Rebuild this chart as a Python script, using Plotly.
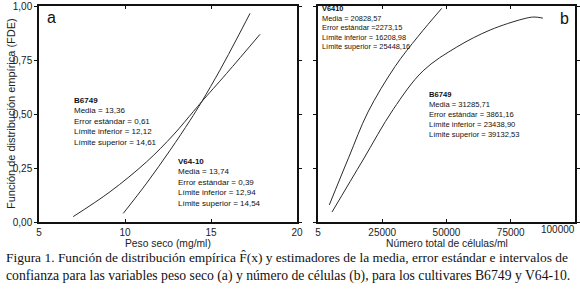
import plotly.graph_objects as go

# Panel a: peso seco (mg/ml)
a_b6749_x = [6.99, 9.13, 11.26, 12.81, 13.97, 14.46, 15.91, 17.85]
a_b6749_y = [0.025, 0.140, 0.279, 0.403, 0.511, 0.557, 0.688, 0.869]
a_v6410_x = [9.90, 11.26, 12.62, 13.78, 14.46, 15.52, 16.49, 17.27]
a_v6410_y = [0.040, 0.180, 0.332, 0.470, 0.557, 0.703, 0.847, 0.966]

# Panel b: número total de células/ml
b_v6410_x = [4400, 12000, 19450, 30000, 39000, 48130]
b_v6410_y = [0.079, 0.300, 0.509, 0.720, 0.860, 0.989]
b_b6749_x = [5450, 17500, 29200, 40900, 54000, 67000, 79800, 84000, 87500]
b_b6749_y = [0.046, 0.287, 0.520, 0.700, 0.810, 0.889, 0.940, 0.949, 0.944]

y_ticks = [0, 0.25, 0.5, 0.75, 1.0]
y_ticktext = ["0,00", "0,25", "0,50", "0,75", "1,00"]
xa_ticks = [5, 10, 15, 20]
xb_ticks = [5, 25000, 50000, 75000, 100000]

txt_a_b = ["<b>B6749</b>", "Media = 13,36", "Error estándar = 0,61",
           "Límite inferior = 12,12", "Límite superior = 14,61"]
txt_a_v = ["<b>V64-10</b>", "Media = 13,74", "Error estándar = 0,39",
           "Límite inferior = 12,94", "Límite superior = 14,54"]
txt_b_v = ["<b>V6410</b>", "Media = 20828,57", "Error estándar =2273,15",
           "Límite inferior = 16208,98", "Límite superior = 25448,16"]
txt_b_b = ["<b>B6749</b>", "Media = 31285,71", "Error estándar = 3861,16",
           "Límite inferior = 23438,90", "Límite superior = 39132,53"]

caption1 = "Figura 1. Función de distribución empírica F\u0302(x) y estimadores de la media, error estándar e intervalos de"
caption2 = "confianza para las variables peso seco (a) y número de células (b), para los cultivares B6749 y V64-10."

LC = "#2a2a2a"
fig = go.Figure()
line = dict(color=LC, width=1, shape="spline")
fig.add_trace(go.Scatter(x=a_b6749_x, y=a_b6749_y, mode="lines", line=line, xaxis="x", yaxis="y"))
fig.add_trace(go.Scatter(x=a_v6410_x, y=a_v6410_y, mode="lines", line=line, xaxis="x", yaxis="y"))
fig.add_trace(go.Scatter(x=b_v6410_x, y=b_v6410_y, mode="lines", line=line, xaxis="x2", yaxis="y2"))
fig.add_trace(go.Scatter(x=b_b6749_x, y=b_b6749_y, mode="lines", line=line, xaxis="x2", yaxis="y2"))

SANS = "Liberation Sans, Arial, sans-serif"
TICKF = dict(family=SANS, size=10, color="#222")
ax_common = dict(showline=True, linecolor="#111", linewidth=1.5, mirror="ticks",
                 tickcolor="#111", showgrid=False,
                 zeroline=False, tickfont=TICKF, automargin=False)

fig.update_layout(
    width=580, height=290, margin=dict(l=0, r=0, t=0, b=0),
    paper_bgcolor="white", plot_bgcolor="white", showlegend=False,
    xaxis=dict(domain=[39/580, 297/580], range=[5, 20], tickvals=xa_ticks,
               ticktext=[str(v) for v in xa_ticks], anchor="y", ticks="inside", ticklen=3,
               **ax_common),
    yaxis=dict(domain=[1-222/290, 1-6/290], range=[0, 1], tickvals=y_ticks,
               ticktext=y_ticktext, anchor="x", ticks="outside", ticklen=3, **ax_common),
    xaxis2=dict(domain=[318/580, 575/580], range=[5, 100000], tickvals=xb_ticks,
                ticktext=[str(v) for v in xb_ticks[:-1]] + [""], anchor="y2",
                ticks="inside", ticklen=3, **ax_common),
    yaxis2=dict(domain=[1-222/290, 1-6/290], range=[0, 1], tickvals=y_ticks,
                showticklabels=False, anchor="x2", ticks="outside", ticklen=3, **ax_common),
)

anns = []
def px(xp): return xp/580
def py(yp): return 1 - yp/290

def block(lines, x, yc, size):
    anns.append(dict(text="<br>".join(lines), x=px(x), y=py(yc), xref="paper", yref="paper",
                     xanchor="left", yanchor="middle", align="left", showarrow=False,
                     font=dict(family=SANS, size=size, color="#111")))

block(txt_a_b, 72, 122, 8)
block(txt_a_v, 176, 182, 8)
block(txt_b_v, 320, 28, 7.4)
block(txt_b_b, 427, 114, 7.6)

# last tick label of panel b, kept inside the page as in the original
anns.append(dict(text=str(xb_ticks[-1]), x=px(577), y=py(229), xref="paper", yref="paper",
                 xanchor="right", yanchor="middle", showarrow=False, font=TICKF))

anns.append(dict(text="a", x=px(51), y=py(17), xref="paper", yref="paper",
                 xanchor="center", yanchor="middle", showarrow=False,
                 font=dict(family=SANS, size=16, color="#111")))
anns.append(dict(text="b", x=px(564), y=py(18), xref="paper", yref="paper",
                 xanchor="center", yanchor="middle", showarrow=False,
                 font=dict(family=SANS, size=16, color="#111")))

anns.append(dict(text="Función de distribución empírica (FDE)", x=px(11), y=py(114),
                 xref="paper", yref="paper", textangle=-90, showarrow=False,
                 xanchor="center", yanchor="middle",
                 font=dict(family=SANS, size=11, color="#222")))
anns.append(dict(text="Peso seco (mg/ml)", x=px(168), y=py(243.5), xref="paper", yref="paper",
                 showarrow=False, xanchor="center", yanchor="middle",
                 font=dict(family=SANS, size=10.3, color="#222")))
anns.append(dict(text="Número total de células/ml", x=px(447), y=py(243.5), xref="paper", yref="paper",
                 showarrow=False, xanchor="center", yanchor="middle",
                 font=dict(family=SANS, size=10.3, color="#222")))

SERIF = "Liberation Serif, Times New Roman, serif"
anns.append(dict(text=caption1, x=px(4), y=py(257.5), xref="paper", yref="paper",
                 showarrow=False, xanchor="left", yanchor="middle",
                 font=dict(family=SERIF, size=13.45, color="#111")))
anns.append(dict(text=caption2, x=px(4), y=py(276), xref="paper", yref="paper",
                 showarrow=False, xanchor="left", yanchor="middle",
                 font=dict(family=SERIF, size=13.7, color="#111")))

fig.update_layout(annotations=anns)
fig.write_html("out.html", post_script="document.body.style.margin='0';",
               config={"displayModeBar": False})
